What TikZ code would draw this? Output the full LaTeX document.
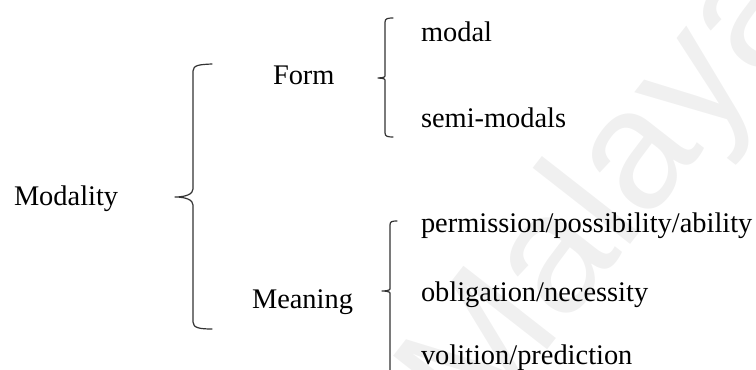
\documentclass[tikz,border=0pt]{standalone}
\usepackage{fontspec}
\setmainfont{Liberation Serif}
\newfontfamily\wmfont{Liberation Sans}
\begin{document}
\begin{tikzpicture}[x=0.75pt,y=-0.75pt,
  lbl/.style={anchor=base west,inner sep=0pt,outer sep=0pt,
    font=\fontsize{21.3}{25}\selectfont,text=black},
  brace/.style={draw=black!80,line width=0.9pt,line cap=round,line join=round},
  wmark/.style={text=black!6,inner sep=0pt,
    font=\wmfont\fontsize{128}{130}\selectfont}]
\useasboundingbox (0,0) rectangle (756,370);
% faint background watermark
\node[wmark,rotate=52] (wm) at (612,196) {Malaya};

% labels
\node[lbl] (modality)  at (14,206)  {Modality};
\node[lbl] (form)      at (273,85)  {Form};
\node[lbl] (meaning)   at (252,308) {Meaning};
\node[lbl] (modal)     at (421,42)  {modal};
\node[lbl] (semi)      at (421,128) {semi-modals};
\node[lbl] (perm)      at (421,233) {permission/possibility/ability};
\node[lbl] (oblig)     at (421,301) {obligation/necessity};
\node[lbl] (vol)       at (421,364) {volition/prediction};

% brace points: Modality -> Form / Meaning
\coordinate (bA1) at (212,64);
\coordinate (bAt) at (175,197);
\coordinate (bA2) at (212,329);
% Form -> modal / semi-modals
\coordinate (bB1) at (393,18);
\coordinate (bBt) at (378,78);
\coordinate (bB2) at (393,137);
% Meaning -> three senses
\coordinate (bC1) at (397,221);
\coordinate (bCt) at (382,291);
\coordinate (bC2) at (390,375);

\draw[brace] (bA1) .. controls (200,64.5) and (193,65) .. (193,71)
  -- (193,189) .. controls (193,194) and (186,197) .. (bAt)
  .. controls (186,197) and (193,200) .. (193,205)
  -- (193,322) .. controls (193,328) and (200,329) .. (bA2);
\draw[brace] (bB1) .. controls (388,18) and (385,18.5) .. (385,22)
  -- (385,76) .. controls (385,77.5) and (381,78) .. (bBt)
  .. controls (381,78) and (385,78.5) .. (385,80)
  -- (385,133) .. controls (385,136.5) and (388,137) .. (bB2);
\draw[brace] (bC1) .. controls (392,221) and (390,221.5) .. (390,225)
  -- (390,289) .. controls (390,290.5) and (385,291) .. (bCt)
  .. controls (385,291) and (390,291.5) .. (390,293)
  -- (bC2);
\end{tikzpicture}
\end{document}
